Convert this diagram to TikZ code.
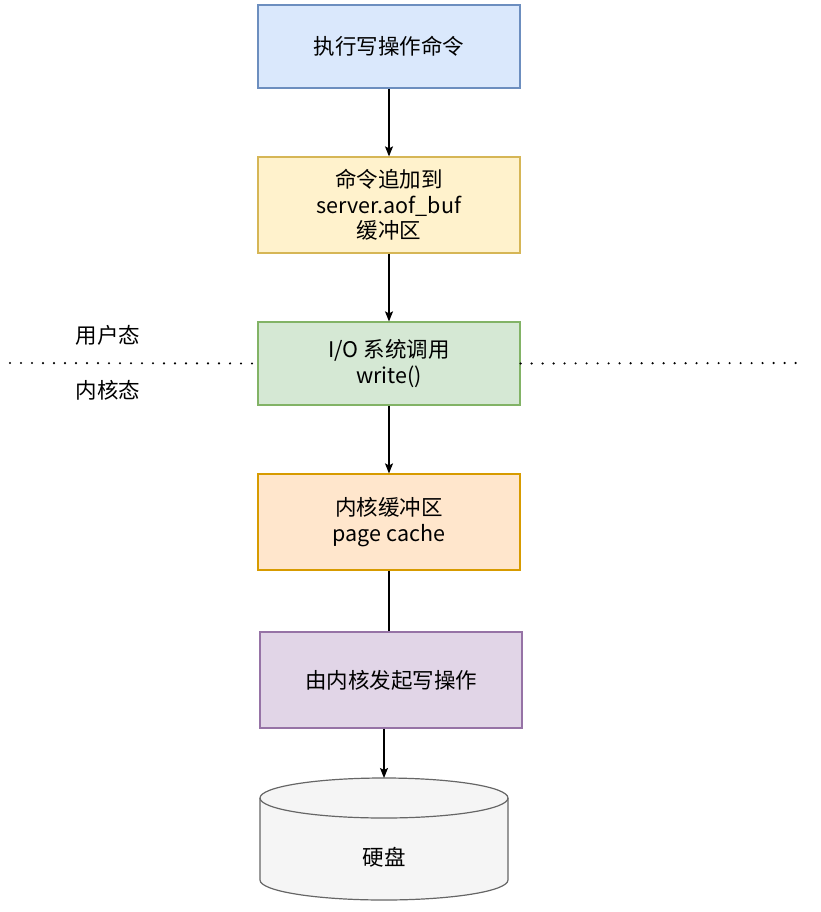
\documentclass[tikz,border=0pt]{standalone}
\usepackage{fontspec}
\setmainfont{Noto Sans CJK SC}
\usetikzlibrary{arrows.meta}
\definecolor{bluefill}{HTML}{DAE8FC}\definecolor{bluedraw}{HTML}{6C8EBF}
\definecolor{yellowfill}{HTML}{FFF2CC}\definecolor{yellowdraw}{HTML}{D6B656}
\definecolor{greenfill}{HTML}{D5E8D4}\definecolor{greendraw}{HTML}{82B366}
\definecolor{orangefill}{HTML}{FFE6CC}\definecolor{orangedraw}{HTML}{D79B00}
\definecolor{purplefill}{HTML}{E1D5E7}\definecolor{purpledraw}{HTML}{9673A6}
\definecolor{diskfill}{HTML}{F5F5F5}\definecolor{diskdraw}{HTML}{666666}
\begin{document}
\begin{tikzpicture}[x=1pt,y=-1pt,font=\fontsize{21.5}{25.5}\selectfont,
	box/.style={draw,line width=1.2pt,minimum width=262pt,align=center,inner sep=0pt},
	flow/.style={line width=1.2pt,-{Stealth[length=10pt,width=8pt,inset=2pt]}}]
	\useasboundingbox (0,0) rectangle (820,912);
	% steps
	\node[box,fill=bluefill,draw=bluedraw,minimum height=83pt] (cmd) at (389,46.5) {执行写操作命令};
	\node[box,fill=yellowfill,draw=yellowdraw,minimum height=96pt] (buf) at (389,205) {命令追加到\\server.aof\_buf\\缓冲区};
	\node[box,fill=greenfill,draw=greendraw,minimum height=83pt] (sys) at (389,363.5) {I/O 系统调用\\write()};
	\node[box,fill=orangefill,draw=orangedraw,minimum height=96pt] (cache) at (389,522) {内核缓冲区\\page cache};
	\node[box,fill=purplefill,draw=purpledraw,minimum height=96pt] (kern) at (391,680) {由内核发起写操作};
	% disk
	\draw[fill=diskfill,draw=diskdraw,line width=1.2pt] (260,798) -- (260,880) arc[start angle=180,end angle=0,x radius=124,y radius=20]
		-- (508,798) arc[start angle=0,end angle=-180,x radius=124,y radius=20];
	\draw[diskdraw,line width=1.2pt] (260,798) arc[start angle=180,end angle=0,x radius=124,y radius=20];
	\node (disk) at (384,857) {硬盘};
	\coordinate (disktop) at (384,778);
	% user / kernel
	\coordinate (lineA) at (10,363);
	\coordinate (lineB) at (800,363);
	\draw[line width=2.4pt,line cap=round,dash pattern=on 0pt off 11pt] (lineA) -- (sys.west);
	\draw[line width=2.4pt,line cap=round,dash pattern=on 0pt off 11pt] (sys.east) -- (lineB);
	\node (user) at (108,335) {用户态};
	\node (kernel) at (108,390) {内核态};
	% connectors
	\draw[flow] (cmd) -- (buf);
	\draw[flow] (buf) -- (sys);
	\draw[flow] (sys) -- (cache);
	\draw[line width=1.2pt] (cache.south) -- (cache.south |- kern.north);
	\draw[flow] (kern.south -| disktop) -- (disktop);
\end{tikzpicture}
\end{document}
